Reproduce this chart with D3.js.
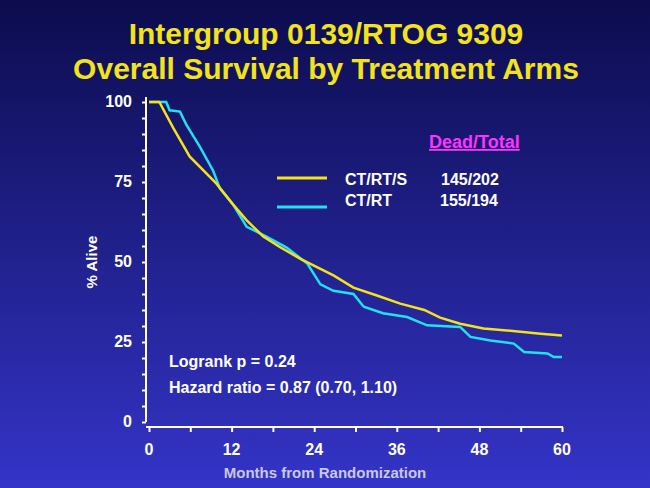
<!DOCTYPE html>
<html><head><meta charset="utf-8">
<script src="https://cdn.jsdelivr.net/npm/d3@7"></script>
<style>body{margin:0;background:#1a1a80}</style>
</head><body>
<svg id="chart" width="650" height="488"></svg>
<script>
// survival curves: month / percent alive
var ctrtsMonths = [0, 1.5, 3.5, 5.9, 9.8, 12.2, 14.2, 16.6, 19, 22, 24.4, 26.8, 29.7, 33, 36.5, 40, 42.3, 45.2, 48.6, 52, 56.9, 60];
var ctrtsAlive  = [100, 100, 92, 83, 74.5, 68, 63, 58, 54.7, 51, 48.4, 45.8, 42, 39.6, 37, 35, 32.6, 30.7, 29.2, 28.6, 27.6, 27];
var ctrtMonths  = [0, 2.5, 3, 4.5, 5.4, 7.4, 9.3, 10.3, 12.2, 14.2, 17, 20, 23, 24.9, 26.8, 29.7, 31.2, 34, 37.5, 40.4, 45.2, 46.7, 49.6, 53, 54.5, 57.9, 58.8, 60];
var ctrtAlive   = [100, 100, 97.4, 97, 93, 86, 78.6, 73, 68, 61, 58, 54.5, 49.5, 43, 41, 40, 36, 34, 32.8, 30.2, 29.7, 26.6, 25.5, 24.5, 21.9, 21.4, 20.3, 20.3];
var xTicks = [0, 12, 24, 36, 48, 60];
var yTicks = [0, 25, 50, 75, 100];

var svg = d3.select("#chart");
var font = "Arial, Liberation Sans";
var defs = svg.append("defs");
var grad = defs.append("linearGradient").attr("id", "bg").attr("x1", 0).attr("y1", 0).attr("x2", 0).attr("y2", 1);
grad.append("stop").attr("offset", "0%").attr("stop-color", "#0c0c4e");
grad.append("stop").attr("offset", "100%").attr("stop-color", "#3434c8");
svg.append("rect").attr("width", 650).attr("height", 488).attr("fill", "url(#bg)");

var yellow = "#f2e31a", cyan = "#22e0f0";

// title
[["Intergroup 0139/RTOG 9309", 44], ["Overall Survival by Treatment Arms", 79]].forEach(function (t) {
    svg.append("text").attr("x", 326).attr("y", t[1]).attr("text-anchor", "middle")
        .attr("font-family", font).attr("font-weight", "bold").attr("font-size", 30)
        .attr("fill", yellow).text(t[0]);
});

var x = d3.scaleLinear().domain([0, 60]).range([149, 562]);
var y = d3.scaleLinear().domain([0, 100]).range([422, 102]);

// axes
var xAxis = svg.append("g").attr("transform", "translate(0,427)")
    .call(d3.axisBottom(x).tickValues(d3.range(0, 61, 6)).tickSize(5).tickFormat(""));
xAxis.select(".domain").attr("d", "M146,0H563");
var yAxis = svg.append("g").attr("transform", "translate(146,0)")
    .call(d3.axisLeft(y).tickValues(d3.range(0, 101, 5)).tickSize(4).tickFormat(""));
[xAxis, yAxis].forEach(function (a) {
    a.selectAll("path,line").attr("stroke", "#ffffff").attr("stroke-width", 2);
});
yAxis.select(".domain").attr("d", "M0,422V97");

svg.selectAll(".xlab").data(xTicks).enter().append("text")
    .attr("x", d => x(d)).attr("y", 455).attr("text-anchor", "middle")
    .attr("font-family", font).attr("font-weight", "bold").attr("font-size", 16)
    .attr("fill", "#ffffff").text(d => d);
svg.selectAll(".ylab").data(yTicks).enter().append("text")
    .attr("x", 132).attr("y", d => y(d) + 5).attr("text-anchor", "end")
    .attr("font-family", font).attr("font-weight", "bold").attr("font-size", 16)
    .attr("fill", "#ffffff").text(d => d);

svg.append("text").attr("transform", "translate(97,262) rotate(-90)").attr("text-anchor", "middle")
    .attr("font-family", font).attr("font-weight", "bold").attr("font-size", 15)
    .attr("fill", "#ffffff").text("% Alive");
svg.append("text").attr("x", 325).attr("y", 478).attr("text-anchor", "middle")
    .attr("font-family", font).attr("font-weight", "bold").attr("font-size", 15)
    .attr("fill", "#c8c8e8").text("Months from Randomization");

// curves
var line = d3.line().curve(d3.curveLinear).x(d => x(d[0])).y(d => y(d[1]));
svg.append("path").datum(d3.zip(ctrtMonths, ctrtAlive)).attr("d", line)
    .attr("fill", "none").attr("stroke", cyan).attr("stroke-width", 2.5);
svg.append("path").datum(d3.zip(ctrtsMonths, ctrtsAlive)).attr("d", line)
    .attr("fill", "none").attr("stroke", yellow).attr("stroke-width", 2.5);

// legend
svg.append("text").attr("x", 429).attr("y", 148)
    .attr("font-family", font).attr("font-weight", "bold").attr("font-size", 18)
    .attr("fill", "#ff33ff").attr("text-decoration", "underline").text("Dead/Total");
var legend = [["CT/RT/S", "145/202", yellow, 178], ["CT/RT", "155/194", cyan, 207]];
legend.forEach(function (l, i) {
    svg.append("line").attr("x1", 277).attr("x2", 327).attr("y1", l[3]).attr("y2", l[3])
        .attr("stroke", l[2]).attr("stroke-width", 3);
    var ty = 185 + i * 21;
    svg.append("text").attr("x", 345).attr("y", ty)
        .attr("font-family", font).attr("font-weight", "bold").attr("font-size", 16)
        .attr("fill", "#ffffff").text(l[0]);
    svg.append("text").attr("x", 441 - i).attr("y", ty)
        .attr("font-family", font).attr("font-weight", "bold").attr("font-size", 16)
        .attr("fill", "#ffffff").text(l[1]);
});

svg.append("text").attr("x", 169).attr("y", 367)
    .attr("font-family", font).attr("font-weight", "bold").attr("font-size", 16)
    .attr("fill", "#ffffff").text("Logrank p = 0.24");
svg.append("text").attr("x", 169).attr("y", 393)
    .attr("font-family", font).attr("font-weight", "bold").attr("font-size", 16)
    .attr("fill", "#ffffff").text("Hazard ratio = 0.87 (0.70, 1.10)");
</script>
</body></html>
